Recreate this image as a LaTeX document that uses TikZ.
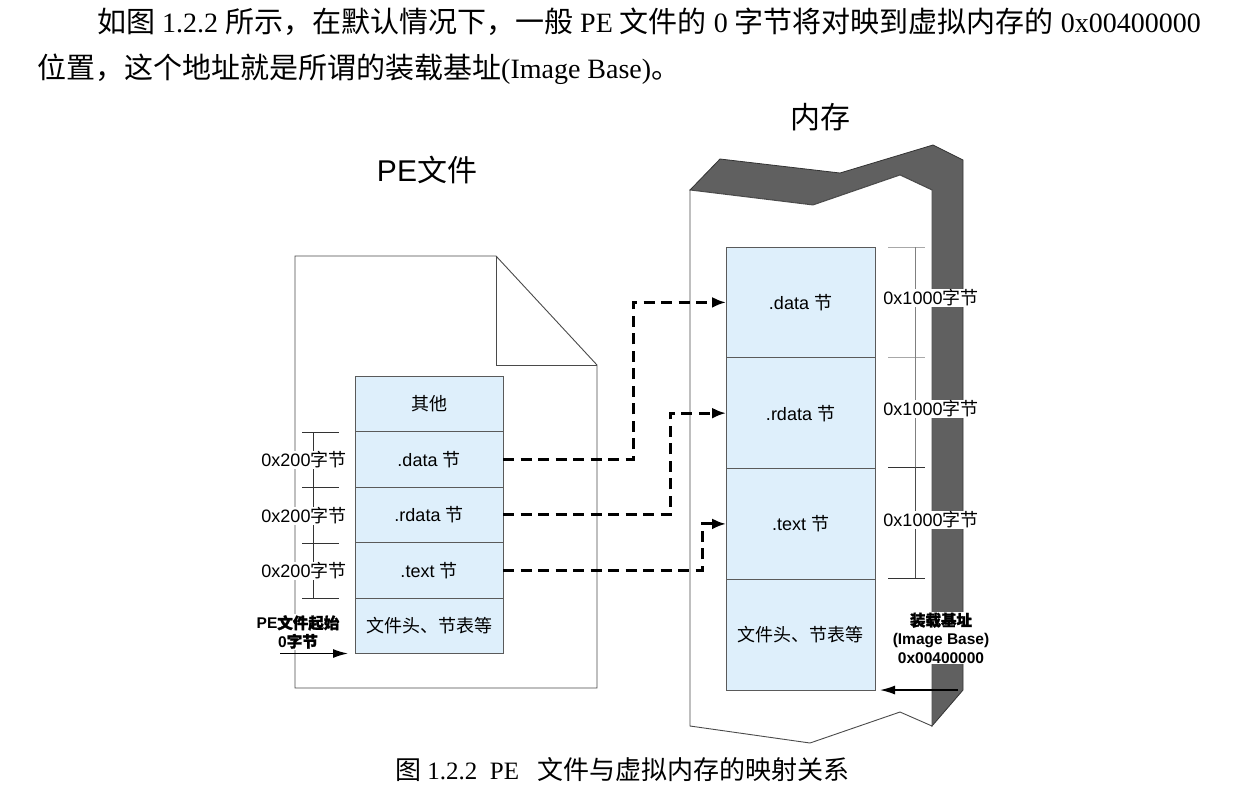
\documentclass[tikz,border=0pt]{standalone}
\usepackage{fontspec}
\setmainfont{Liberation Serif}
\setsansfont{Liberation Sans}
\newfontfamily\cjk{Noto Sans CJK SC}
\newfontfamily\cjkbf[FakeBold=1.6]{Noto Sans CJK SC}
\newcommand\zh[1]{{\cjk #1}}
\newcommand\zhb[1]{{\cjkbf #1}}
\newcommand\zhp[1]{{\fontsize{29}{34}\selectfont\cjk #1}}
\newcommand\zhc[1]{{\fontsize{26}{30}\selectfont\cjk #1}}
\usetikzlibrary{arrows.meta}
\definecolor{boxblue}{HTML}{DEEFFB}
\definecolor{boxline}{HTML}{5A5A5A}
\definecolor{outline}{HTML}{4A4A4A}
\definecolor{memgray}{HTML}{606060}
\definecolor{tickgray}{HTML}{A8A8A8}
\tikzset{
  lbox/.style={draw=boxline, line width=0.9pt, fill=boxblue, minimum width=148pt,
    minimum height=55.5pt, inner sep=0pt, outer sep=0pt,
    font=\sffamily\fontsize{18}{20}\selectfont},
  mbox/.style={lbox, minimum width=149pt, minimum height=110.75pt},
  fileline/.style={draw=outline, line width=0.9pt},
  dasharrow/.style={line width=3pt, dash pattern=on 11pt off 6.5pt,
    -{Latex[length=14pt,width=11pt]}},
  ptr/.style={line width=1.4pt, -{Latex[length=15pt,width=9pt]}},
  sizelabel/.style={fill=white, inner sep=1pt, font=\sffamily\fontsize{18}{20}\selectfont},
  boldlabel/.style={fill=white, inner sep=1pt, align=center,
    font=\sffamily\bfseries\fontsize{15.5}{18.5}\selectfont},
  title/.style={font=\sffamily\fontsize{30}{32}\selectfont},
  para/.style={inner sep=0pt, font=\rmfamily\fontsize{28}{34}\selectfont},
}
\begin{document}
\begin{tikzpicture}[x=1pt, y=-1pt]
\useasboundingbox (0,0) rectangle (1249,796);
\fill[white] (0,0) rectangle (1249,796);

% paragraph above the figure
\node[para, anchor=base west] (p1) at (97,32)
  {\zhp{如图} 1.2.2 \zhp{所示，在默认情况下，一般} PE \zhp{文件的} 0 \zhp{字节将对映到虚拟内存的} 0x00400000};
\node[para, anchor=base west] (p2) at (37,78)
  {\zhp{位置，这个地址就是所谓的装载基址}(Image Base)\zhp{。}};

% titles
\node[title] (petitle) at (427,170) {PE\zh{文件}};
\node[title] (memtitle) at (820,117) {\zh{内存}};

% PE file page with folded corner
\draw[fileline] (295,256) -- (496,256) -- (597,365) -- (597,688) -- (295,688) -- cycle;
\draw[fileline] (496,256) -- (496,365) -- (597,365);

% sections in the file
\node[lbox] (lother) at (429,403.75) {\zh{其他}};
\node[lbox, anchor=north] (ldata) at (lother.south) {.data \zh{节}};
\node[lbox, anchor=north] (lrdata) at (ldata.south) {.rdata \zh{节}};
\node[lbox, anchor=north] (ltext) at (lrdata.south) {.text \zh{节}};
\node[lbox, anchor=north] (lhead) at (ltext.south) {\zh{文件头、节表等}};

% memory block: dark folded band and white body
\filldraw[fill=memgray, draw=black!80, line width=0.8pt]
  (690,190) -- (720,159) -- (840,173) -- (933,145) -- (963,160) -- (963,690)
  -- (932,726) -- (932,190) -- (900,175) -- (813,205) -- cycle;
\filldraw[fill=white, draw=outline, line width=0.9pt]
  (690,190) -- (813,205) -- (900,175) -- (932,190) -- (932,726)
  -- (900,712) -- (810,743) -- (690,726) -- cycle;

% sections in memory
\node[mbox] (mdata) at (800.5,302.4) {.data \zh{节}};
\node[mbox, anchor=north] (mrdata) at (mdata.south) {.rdata \zh{节}};
\node[mbox, anchor=north] (mtext) at (mrdata.south) {.text \zh{节}};
\node[mbox, anchor=north] (mhead) at (mtext.south) {\zh{文件头、节表等}};

% size marks beside the file sections
\foreach \y [count=\i] in {432,487,543,598} {
  \coordinate (lt\i a) at (302,\y);
  \coordinate (lt\i b) at (339,\y);
  \coordinate (lv\i) at (313,\y);
  \draw[line width=0.9pt, black!80] (lt\i a) -- (lt\i b);
}
\draw[line width=0.9pt, black!80] (lv1) -- (lv4);
\node[sizelabel] (ls1) at (304,460) {0x200\zh{字节}};
\node[sizelabel] (ls2) at (304,516) {0x200\zh{字节}};
\node[sizelabel] (ls3) at (304,571) {0x200\zh{字节}};

% start of the file
\node[boldlabel] (zerolbl) at (298,632) {PE\zhb{文件起始}\\0\zhb{字节}};
\coordinate (zs) at ([xshift=-75pt]lhead.south west);
\draw[ptr] (zs) -- ([xshift=-7pt]lhead.south west);

% size marks beside the memory sections
\foreach \y/\c [count=\i] in {247/tickgray,357/tickgray,467/black!80,578/black!80} {
  \coordinate (rt\i a) at (888,\y);
  \coordinate (rt\i b) at (925,\y);
  \coordinate (rv\i) at (915,\y);
  \draw[line width=1pt, \c] (rt\i a) -- (rt\i b);
}
\draw[line width=1pt, gray] (rv1) -- (rv3);
\draw[line width=1pt, black!70] (rv3) -- (rv4);
\node[sizelabel] (rs1) at (931,298) {0x1000\zh{字节}};
\node[sizelabel] (rs2) at (931,409) {0x1000\zh{字节}};
\node[sizelabel] (rs3) at (931,520) {0x1000\zh{字节}};

% image base
\node[boldlabel] (baselbl) at (941,638) {\zhb{装载基址}\\(Image Base)\\0x00400000};
\coordinate (bs) at ([xshift=83pt]mhead.south east);
\draw[ptr] (bs) -- ([xshift=5pt]mhead.south east);

% mapping of the sections
\draw[dasharrow] (ldata.east) -- ++(130,0) |- (mdata.west);
\draw[dasharrow] (lrdata.east) -- ++(167,0) |- (mrdata.west);
\draw[dasharrow] (ltext.east) -- ++(199,0) |- (mtext.west);

% caption
\node[para, anchor=base west, font=\rmfamily\fontsize{25}{30}\selectfont] (cap) at (395,779)
  {\zhc{图} 1.2.2\ \ PE\ \ \ \zhc{文件与虚拟内存的映射关系}};
\end{tikzpicture}
\end{document}
